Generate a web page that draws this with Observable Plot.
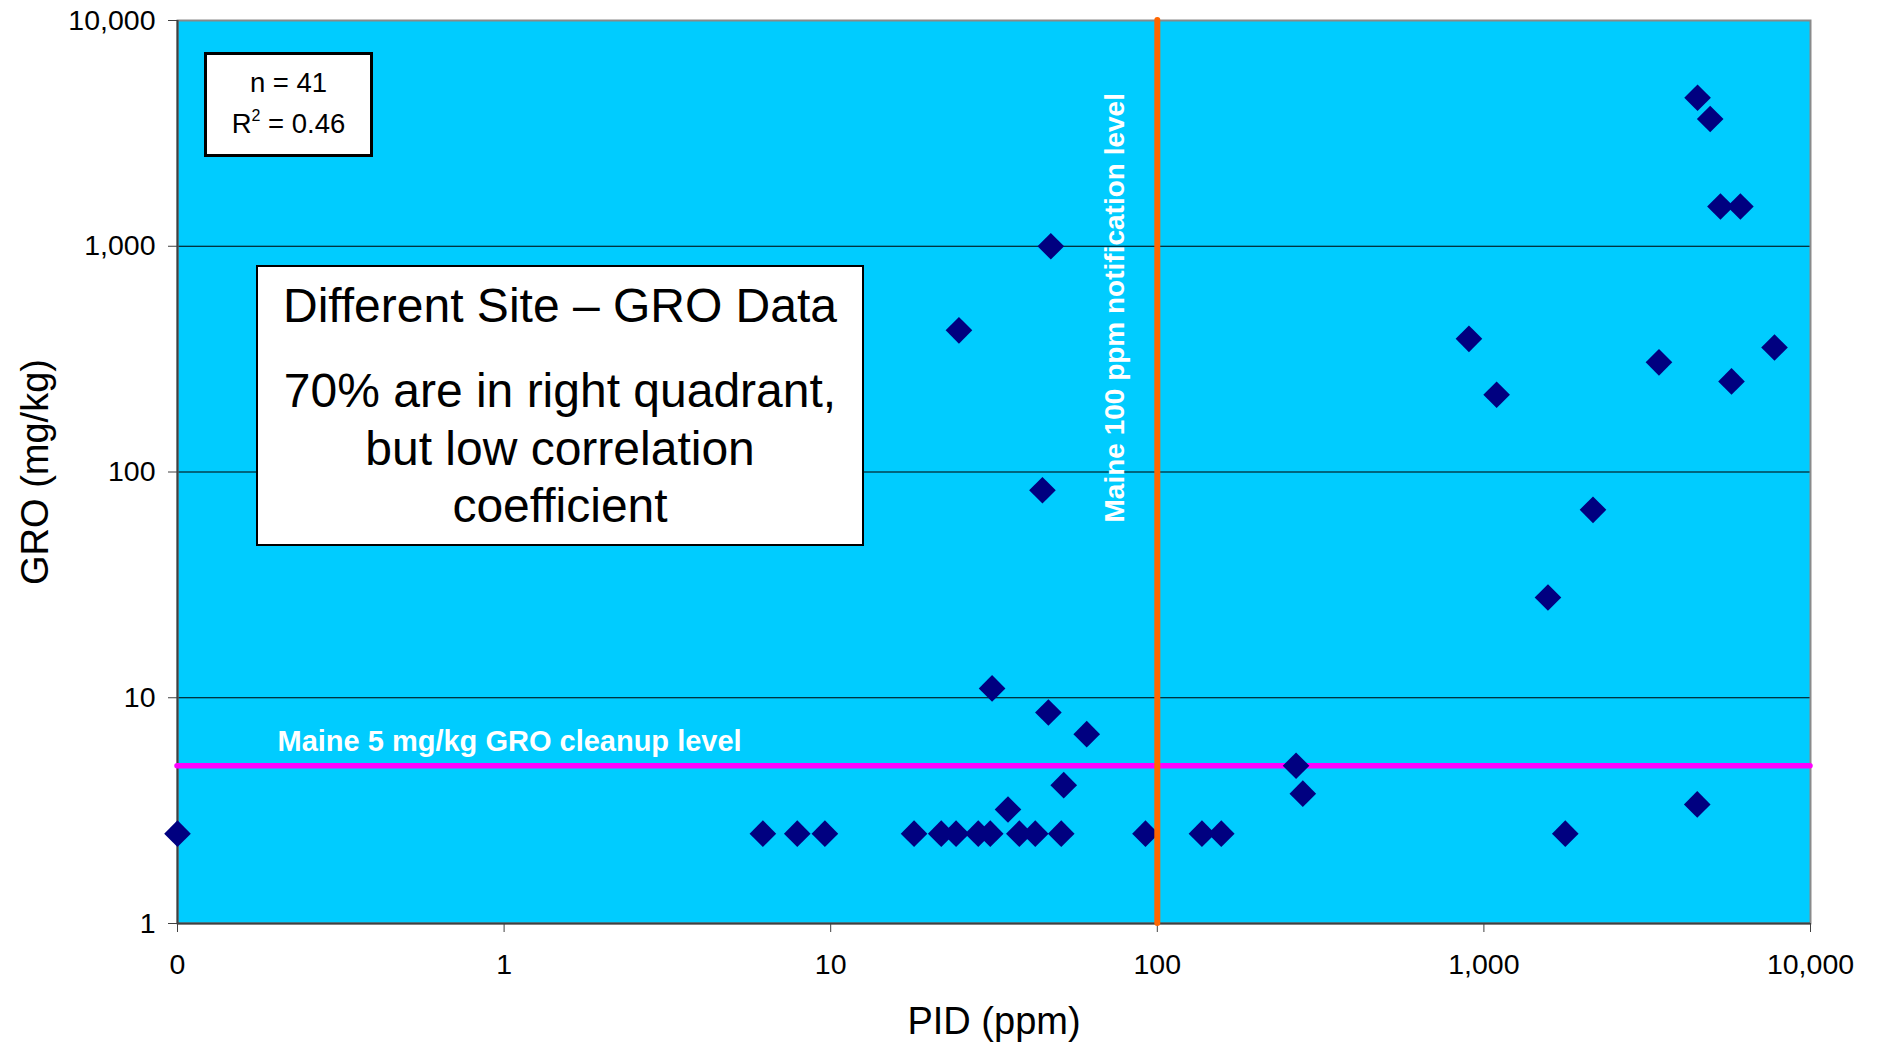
<!DOCTYPE html>
<html>
<head>
<meta charset="utf-8">
<script src="https://cdn.jsdelivr.net/npm/d3@7"></script>
<script src="https://cdn.jsdelivr.net/npm/@observablehq/plot@0.6"></script>
<style>
  html, body { margin: 0; padding: 0; background: #fff; overflow: hidden; }
  #page { position: relative; width: 1879px; height: 1047px; font-family: "Liberation Sans", Arial, sans-serif; }
  .box { position: absolute; box-sizing: border-box; background: #fff; border: 3px solid #000; }
  .line { position: absolute; text-align: center; color: #000; white-space: nowrap; }
</style>
</head>
<body>
<div id="page"></div>
<script>
// PID (ppm) readings; PID of 0 is drawn at the axis origin (0.1 on the log axis, labelled "0")
const pid = [0.1, 6.2, 7.9, 9.6, 18, 21.8, 24.2, 28.3, 30.8, 37.8, 42.3, 50.8, 92, 137, 157, 1775,
             31.2, 46.4, 60.8, 34.9, 51.7, 47.2, 24.7, 44.5, 266, 279, 4500,
             4510, 4930, 5300, 6100, 900, 1094, 3436, 5730, 7760, 2158, 1571];
// GRO (mg/kg) results
const gro = [2.5, 2.5, 2.5, 2.5, 2.5, 2.5, 2.5, 2.5, 2.5, 2.5, 2.5, 2.5, 2.5, 2.5, 2.5, 2.5,
             11, 8.6, 6.9, 3.2, 4.1, 1000, 424, 83, 5, 3.76, 3.37,
             4550, 3660, 1500, 1500, 389, 220, 306, 252, 356, 68, 27.8];

const xTicks = [0.1, 1, 10, 100, 1000, 10000];
const xTickLabels = ["0", "1", "10", "100", "1,000", "10,000"];
const yTicks = [1, 10, 100, 1000, 10000];
const yTickLabels = ["1", "10", "100", "1,000", "10,000"];
const gridLevels = [10, 100, 1000];
const cleanupLevel = 5;        // Maine GRO cleanup level, mg/kg
const notificationLevel = 100; // Maine PID notification level, ppm

const data = pid.map((p, i) => ({pid: p, gro: gro[i]}));
const font = "'Liberation Sans', Arial, sans-serif";

const chart = Plot.plot({
  width: 1879,
  height: 1047,
  marginLeft: 177,
  marginRight: 69,
  marginTop: 20,
  marginBottom: 124,
  style: {fontFamily: font, fontSize: "28px", background: "#ffffff", color: "#000"},
  x: {type: "log", domain: [0.1, 10000], label: null},
  y: {type: "log", domain: [1, 10000], label: null},
  marks: [
    Plot.frame({fill: "#00CCFF"}),
    Plot.gridY(gridLevels, {stroke: "#000", strokeOpacity: 1, strokeWidth: 1.2}),
    Plot.frame({stroke: "#8a8a8a", strokeWidth: 2}),
    Plot.ruleX([0.1], {stroke: "#404040", strokeWidth: 2}),
    Plot.ruleY([1], {stroke: "#404040", strokeWidth: 2}),
    Plot.axisY(yTicks, {tickSize: 9, tickPadding: 13, stroke: "#404040",
      tickFormat: d => yTickLabels[yTicks.indexOf(d)], fontSize: 28.5, label: null}),
    Plot.axisX(xTicks, {tickSize: 9, tickPadding: 21, stroke: "#404040",
      tickFormat: d => xTickLabels[xTicks.indexOf(d)], fontSize: 28.5, label: null}),
    Plot.ruleY([cleanupLevel], {stroke: "#FF00FF", strokeWidth: 5.5, strokeLinecap: "round"}),
    Plot.dot(data, {x: "pid", y: "gro", symbol: "diamond2", r: 12, fill: "#000080", stroke: "none"}),
    Plot.ruleX([notificationLevel], {stroke: "#FF6600", strokeWidth: 6, strokeLinecap: "round"}),
    Plot.text(["Maine 5 mg/kg GRO cleanup level"], {
      y: cleanupLevel, frameAnchor: "left", textAnchor: "start", dx: 100, dy: -24,
      fill: "#fff", fontWeight: "bold", fontSize: 29
    }),
    Plot.text(["Maine 100 ppm notification level"], {
      x: notificationLevel, frameAnchor: "bottom", textAnchor: "start", rotate: -90,
      dx: -33, dy: -401, fill: "#fff", fontWeight: "bold", fontSize: 28
    }),
    Plot.text(["PID (ppm)"], {frameAnchor: "bottom", textAnchor: "middle", lineAnchor: "bottom", dy: 110, fontSize: 38, fill: "#000"}),
    Plot.text(["GRO (mg/kg)"], {frameAnchor: "left", textAnchor: "middle", lineAnchor: "middle", rotate: -90, dx: -142, dy: 0, fontSize: 38, fill: "#000"})
  ]
});

const page = document.getElementById("page");
page.appendChild(chart);

function addBox(left, top, w, h, border) {
  const b = document.createElement("div");
  b.className = "box";
  Object.assign(b.style, {left: left + "px", top: top + "px", width: w + "px", height: h + "px", borderWidth: border + "px"});
  page.appendChild(b);
}
function addLine(html, left, top, w, size, lh) {
  const d = document.createElement("div");
  d.className = "line";
  d.innerHTML = html;
  Object.assign(d.style, {left: left + "px", top: top + "px", width: w + "px", fontSize: size + "px", lineHeight: lh + "px"});
  page.appendChild(d);
}

// statistics box
addBox(204, 52, 169, 105, 3);
addLine("n = 41", 204, 63, 169, 27.5, 40);
addLine('R<span style="font-size:16px;position:relative;top:-12px">2</span> = 0.46', 204, 104, 169, 27.5, 40);

// comment box
const commentLines = ["70% are in right quadrant,", "but low correlation", "coefficient"];
addBox(256, 265, 608, 281, 2.5);
addLine("Different Site – GRO Data", 256, 277, 608, 48, 57.5);
commentLines.forEach((t, i) => addLine(t, 256, 362 + i * 57.5, 608, 48, 57.5));
</script>
</body>
</html>
